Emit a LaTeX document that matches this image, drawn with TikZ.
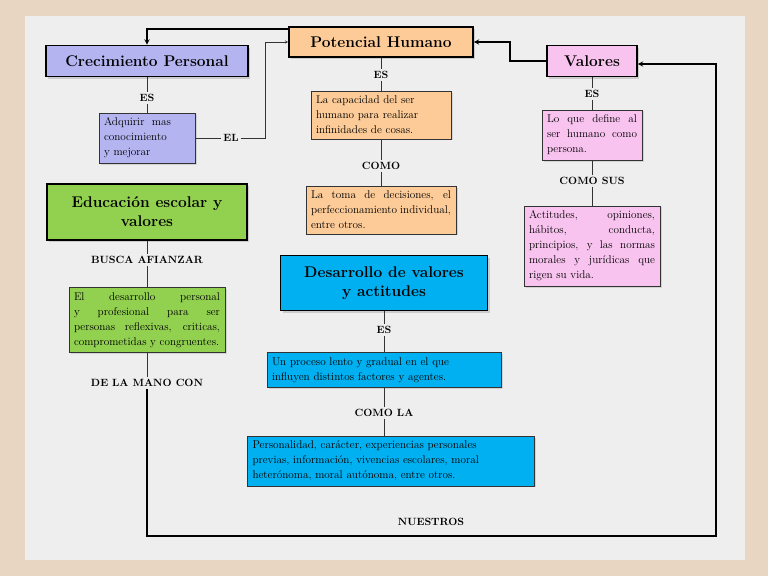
\documentclass[tikz,border=0pt]{standalone}
\usetikzlibrary{shadows}
\definecolor{lila}{HTML}{B4B4F0}
\definecolor{durazno}{HTML}{FCCB98}
\definecolor{rosa}{HTML}{F9C3EF}
\definecolor{verde}{HTML}{92D050}
\definecolor{celeste}{HTML}{00B0F0}
\definecolor{marco}{HTML}{E9D6C2}
\definecolor{fondo}{HTML}{EEEEEE}
\hyphenpenalty=10000
\begin{document}
\begin{tikzpicture}[x=1pt,y=-1pt]
		\tikzstyle{titulo}=[draw=black,line width=1.6pt,font=\fontsize{15.5}{19}\selectfont\bfseries,align=center,inner sep=2pt,drop shadow={opacity=0.3,shadow xshift=2pt,shadow yshift=-2pt}]
		\tikzstyle{caja}=[draw=black!80,line width=0.5pt,font=\fontsize{11.2}{15}\selectfont,align=justify,inner sep=5pt,drop shadow={opacity=0.25,shadow xshift=1.5pt,shadow yshift=-1.5pt}]
		\tikzstyle{enlace}=[font=\fontsize{10.5}{12}\selectfont\bfseries,inner sep=2pt]
		\tikzstyle{linea}=[draw,black!80,line width=0.5pt]
		\tikzstyle{flecha}=[draw,line width=1.4pt,->,>=stealth]
		
		\fill[marco] (0,0) rectangle (768,576);
		\fill[fondo] (25,16) rectangle (745,560);
		\useasboundingbox (0,0) rectangle (768,576);
		
		\node[titulo,fill=lila,minimum width=202pt,minimum height=31pt] (crec) at (147,61) {Crecimiento Personal};
		\node[titulo,fill=durazno,minimum width=184pt,minimum height=30pt] (pot) at (381,42) {Potencial Humano};
		\node[titulo,fill=rosa,minimum width=90pt,minimum height=31pt] (val) at (592,61) {Valores};
		
		\node[enlace] (es1) at (147,98) {ES};
		\node[caja,fill=lila,text width=86pt,align=left] (adq) at (147,138) {Adquirir\ \ mas conocimiento y~mejorar};
		\node[enlace] (el) at (231,138) {EL};
		
		\node[enlace] (es2) at (381,75) {ES};
		\node[caja,fill=durazno,text width=130pt,align=left] (cap) at (381,115) {La capacidad del ser\\humano para realizar\\infinidades de cosas.};
		\node[enlace] (como) at (381,166) {COMO};
		\node[caja,fill=durazno,text width=140pt] (toma) at (381,210) {La toma de decisiones, el perfeccionamiento individual, entre otros.};
		
		\node[enlace] (es3) at (592,94) {ES};
		\node[caja,fill=rosa,text width=90pt] (loque) at (592,135) {Lo que define al ser humano como persona.};
		\node[enlace] (comosus) at (592,181) {COMO SUS};
		\node[caja,fill=rosa,text width=126pt] (acti) at (592,246) {Actitudes, opiniones, hábitos, conducta, principios, y las normas morales y jurídicas que rigen su vida.};
		
		\node[titulo,fill=verde,minimum width=200pt,minimum height=56pt] (edu) at (147,212) {Educación escolar y\\valores};
		\node[enlace] (busca) at (147,260) {BUSCA AFIANZAR};
		\node[caja,fill=verde,text width=146pt] (desper) at (147,320) {El desarrollo personal y profesional para ser personas reflexivas, criticas, comprometidas y congruentes.};
		\node[enlace] (mano) at (147,383) {DE LA MANO CON};
		
		\node[titulo,fill=celeste,minimum width=207pt,minimum height=55pt] (desval) at (384,283) {Desarrollo de valores\\y actitudes};
		\node[enlace] (es4) at (384,330) {ES};
		\node[caja,fill=celeste,text width=224pt,align=left] (proc) at (384,370) {Un proceso lento y gradual en el que\\influyen distintos factores y agentes.};
		\node[enlace] (comola) at (384,413) {COMO LA};
		\node[caja,fill=celeste,text width=277pt,align=left] (pers) at (391,461) {Personalidad, carácter, experiencias personales\\previas, información, vivencias escolares, moral\\heterónoma, moral autónoma, entre otros.};
		\node[enlace] (nues) at (431,522) {NUESTROS};
		
		\coordinate (c1) at (147,536);
		\coordinate (c2) at (716,536);
		\coordinate (c3) at (716,64);
		
		\draw[linea] (crec) -- (es1) -- (adq);
		\draw[linea] (pot) -- (es2) -- (cap) -- (como) -- (toma);
		\draw[linea] (val) -- (es3) -- (loque) -- (comosus) -- (acti);
		\draw[linea] (edu) -- (busca) -- (desper) -- (mano);
		\draw[linea] (desval) -- (es4) -- (proc) -- (comola) -- (comola |- pers.north);
		\draw[linea] (adq) -- (el);
		
		\draw[linea,->,>=stealth] (el.east) -| (265,42) -- (pot.west |- 0,42);
		\draw[flecha] (pot.west |- 0,29) -| (crec.north);
		\draw[flecha] (val.west) -| (510,42) -- (pot.east |- 0,42);
		\draw[flecha] (mano.south) -- (c1) -- (c2) -- (c3) -- (val.east |- c3);
		\end{tikzpicture}
\end{document}
